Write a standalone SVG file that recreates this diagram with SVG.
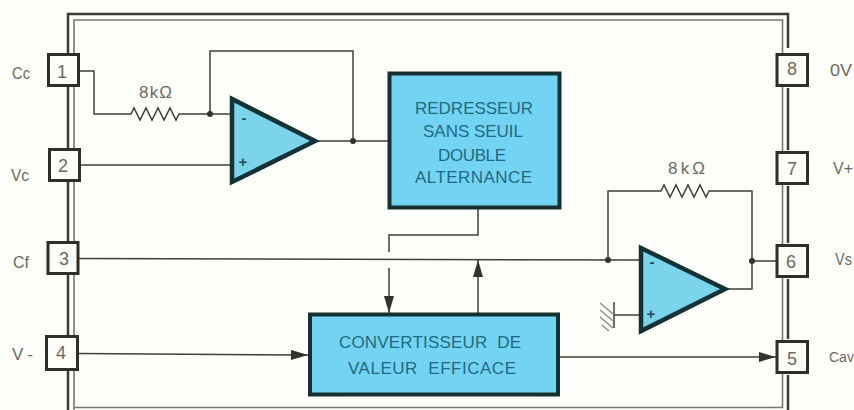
<svg xmlns="http://www.w3.org/2000/svg" width="854" height="410" viewBox="0 0 854 410">
<style>
.w{fill:none;stroke:#3f3f36;stroke-width:1.5}
.f{fill:none;stroke:#3a3a32;stroke-width:2.5}
.fi{fill:none;stroke:#77776c;stroke-width:1.6}
.pin{fill:#fdfdf9;stroke:#2f2f28;stroke-width:3}
.blk{fill:#72d4f2;stroke:#14302f;stroke-width:4}
.amp{fill:#7bd3ec;stroke:#123235;stroke-width:4.5;stroke-linejoin:miter}
.t{font-family:"Liberation Sans",Arial,sans-serif;fill:#6a6a60}
.p{font-size:18px;text-anchor:middle}
.l{font-size:17px}
.b{font-family:"Liberation Sans",Arial,sans-serif;fill:#1f6a80;font-size:17px}
.s{font-family:"Liberation Sans",Arial,sans-serif;fill:#1f4d55;font-size:15px;font-weight:bold;text-anchor:middle}
.dot{fill:#33332c}
.ah{fill:#33332c}
</style>
<defs>
<marker id="a" markerUnits="userSpaceOnUse" markerWidth="18" markerHeight="10" refX="17" refY="5" orient="auto"><path d="M0 0L17 5L0 10Z" class="ah"/></marker>
</defs>
<rect width="854" height="410" fill="#fefefb"/>
<g id="frame">
<path class="f" d="M68 410V14H788V48"/>
<path class="f" d="M788 88V150M788 186V243M788 279V339M788 375V410"/>
<path class="fi" d="M74 410V20H782.500V407.500H74"/>
</g>
<g id="connectors">
<path class="w" d="M79 71H94V114H127"/>
<path class="w" d="M127 114L131 114L134 108L140 120L146 108L152 120L158 108L164 120L170 108L176 120L179 114H231"/>
<path class="w" d="M210 114V51H353V141"/>
<path class="w" d="M316 141H389"/>
<path class="w" d="M80 165H230"/>
<path class="w" d="M79 258.500L641 260"/>
<path class="w" d="M608 260V191H658L661 191L664 185L670 197L676 185L682 197L688 185L694 197L700 185L706 197L709 191H752V289H726"/>
<path class="w" d="M752 261H777"/>
<path class="w" d="M640 315H614"/>
<path class="w" d="M614 302V328" stroke-width="2"/>
<path d="M600 303L613 314M600 310L613 321M600 317L613 328M602 325L609 331" fill="none" stroke="#8a8a80" stroke-width="1.300"/>
<path class="w" d="M478 209V235H389V252"/>
<path class="w" d="M389 268V313" marker-end="url(#a)"/>
<path class="w" d="M478 314V260" marker-end="url(#a)"/>
<path class="w" d="M78 353.500L308 355" marker-end="url(#a)"/>
<path class="w" d="M558 357H776" marker-end="url(#a)"/>
<circle class="dot" cx="210" cy="114" r="3"/>
<circle class="dot" cx="353" cy="141" r="3"/>
<circle class="dot" cx="608" cy="260" r="3"/>
<circle class="dot" cx="752" cy="261" r="3"/>
</g>
<g id="pin1"><rect class="pin" x="48.500" y="54.500" width="30" height="31"/><text class="t p" x="62" y="78">1</text><text class="t l" x="12" y="79" textLength="18" lengthAdjust="spacingAndGlyphs">Cc</text></g>
<g id="pin2"><rect class="pin" x="49.500" y="149.500" width="30" height="31"/><text class="t p" x="63" y="172">2</text><text class="t l" x="11" y="181" textLength="18" lengthAdjust="spacingAndGlyphs">Vc</text></g>
<g id="pin3"><rect class="pin" x="48" y="242.500" width="30" height="31"/><text class="t p" x="64" y="265">3</text><text class="t l" x="13" y="268" textLength="16" lengthAdjust="spacingAndGlyphs">Cf</text></g>
<g id="pin4"><rect class="pin" x="46.500" y="336.500" width="31" height="33"/><text class="t p" x="61" y="359">4</text><text class="t l" x="12" y="360" textLength="21" lengthAdjust="spacing">V-</text></g>
<g id="pin8"><rect class="pin" x="777" y="54.500" width="30.500" height="31"/><text class="t p" x="792" y="75">8</text><text class="t l" x="830" y="76" textLength="22" lengthAdjust="spacingAndGlyphs">0V</text></g>
<g id="pin7"><rect class="pin" x="777" y="152.500" width="30.500" height="31"/><text class="t p" x="792" y="175">7</text><text class="t l" x="833" y="174" textLength="20" lengthAdjust="spacingAndGlyphs">V+</text></g>
<g id="pin6"><rect class="pin" x="777" y="245.500" width="30.500" height="31"/><text class="t p" x="791" y="268">6</text><text class="t l" x="835" y="265" textLength="17" lengthAdjust="spacingAndGlyphs">Vs</text></g>
<g id="pin5"><rect class="pin" x="777" y="341.500" width="30.500" height="31"/><text class="t p" x="792" y="365">5</text><text class="t" x="829" y="362" font-size="14">Cav</text></g>
<g id="r1"><text class="t l" x="139" y="98" textLength="33" lengthAdjust="spacing">8kΩ</text></g>
<g id="r2"><text class="t l" x="668" y="174" textLength="37" lengthAdjust="spacing">8kΩ</text></g>
<g id="amp1"><path class="amp" d="M232 99V182L315 141Z"/><text class="s" x="244" y="123">-</text><text class="s" x="243" y="167">+</text></g>
<g id="amp2"><path class="amp" d="M641 248V331L725 289Z"/><text class="s" x="652" y="267">-</text><text class="s" x="651" y="319">+</text></g>
<g id="redresseur"><rect class="blk" x="389.500" y="73.500" width="170" height="134"/>
<text class="b" x="415" y="114" textLength="118" lengthAdjust="spacing">REDRESSEUR</text><text class="b" x="423" y="137" textLength="100" lengthAdjust="spacing">SANS SEUIL</text><text class="b" x="438" y="161" textLength="68" lengthAdjust="spacing">DOUBLE</text><text class="b" x="415" y="183" textLength="117" lengthAdjust="spacing">ALTERNANCE</text></g>
<g id="convertisseur"><rect class="blk" x="310" y="314.500" width="248" height="80"/>
<text class="b" x="339" y="348" textLength="182" lengthAdjust="spacing" xml:space="preserve">CONVERTISSEUR  DE</text><text class="b" x="348" y="374" textLength="168" lengthAdjust="spacing" xml:space="preserve">VALEUR  EFFICACE</text></g>
</svg>
